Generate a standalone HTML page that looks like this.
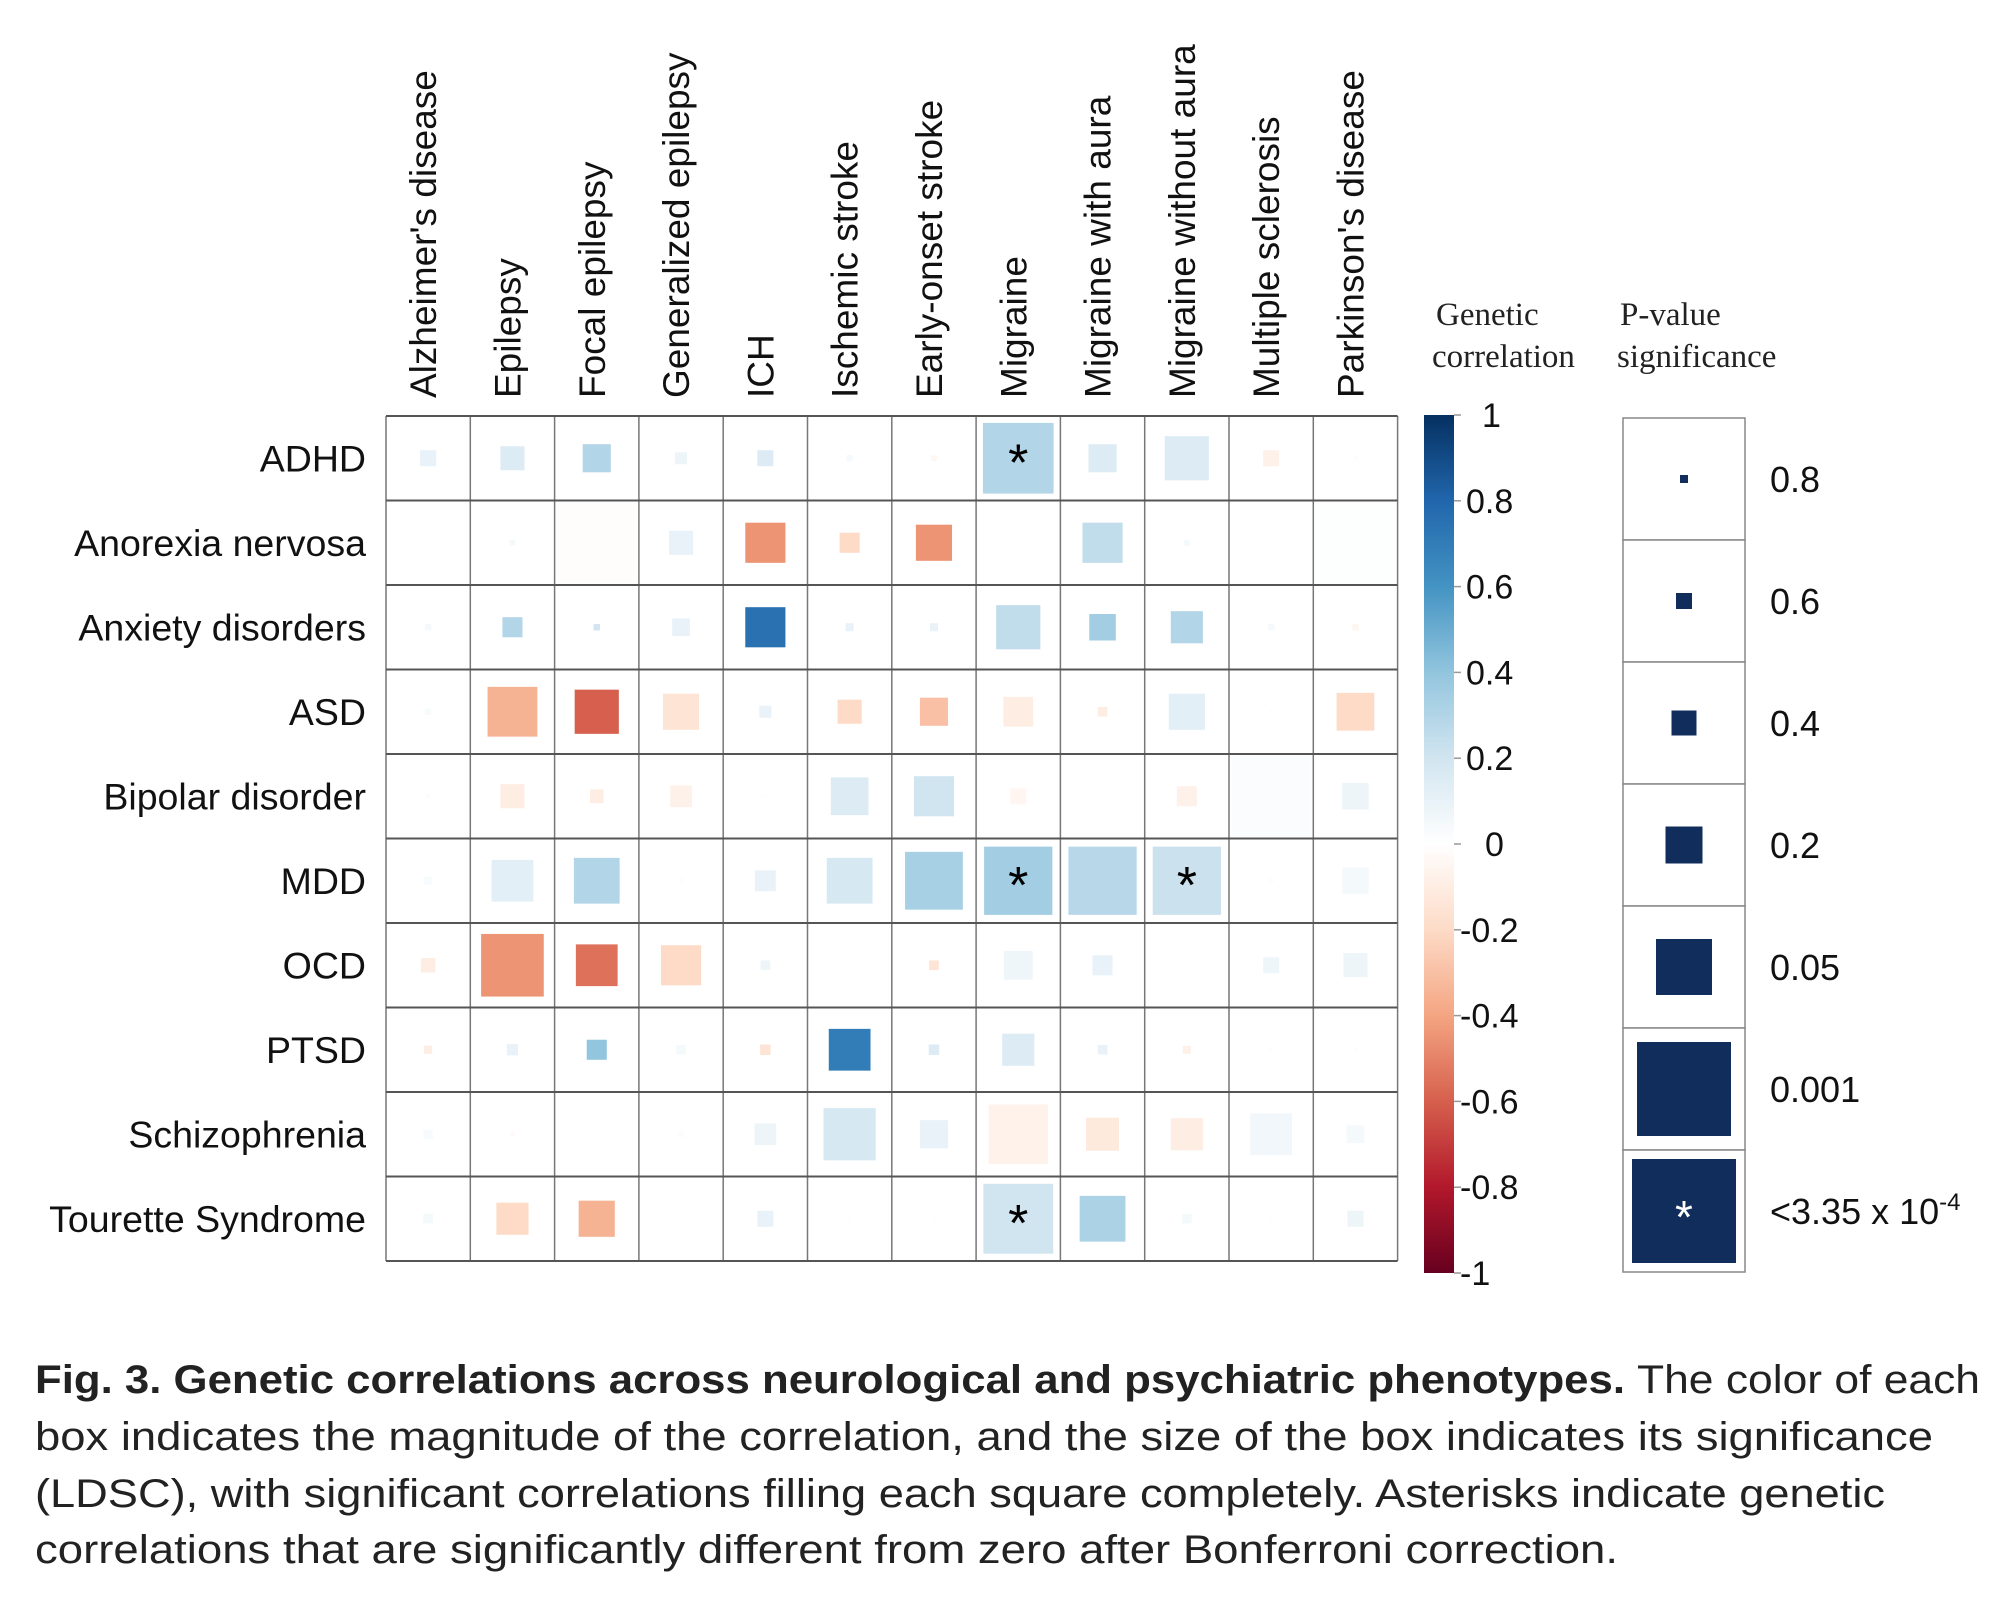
<!DOCTYPE html>
<html><head><meta charset="utf-8"><style>
html,body{margin:0;padding:0;background:#fff;}
svg{display:block;font-family:"Liberation Sans",Arial,sans-serif;}
</style></head><body>
<svg id="chart" width="2010" height="1604" viewBox="0 0 2010 1604" xmlns="http://www.w3.org/2000/svg">
<g id="cells"></g>
<g id="grid"></g>
<g id="collabels"></g>
<g id="rowlabels"></g>
<defs><linearGradient id="rdbu" x1="0" y1="1" x2="0" y2="0">
<stop offset="0" stop-color="#67001F"/><stop offset="0.1" stop-color="#B2182B"/><stop offset="0.2" stop-color="#D6604D"/><stop offset="0.3" stop-color="#F4A582"/><stop offset="0.4" stop-color="#FDDBC7"/><stop offset="0.5" stop-color="#FFFFFF"/><stop offset="0.6" stop-color="#D1E5F0"/><stop offset="0.7" stop-color="#92C5DE"/><stop offset="0.8" stop-color="#4393C3"/><stop offset="0.9" stop-color="#2166AC"/><stop offset="1" stop-color="#053061"/>
</linearGradient></defs>
<text x="1436" y="325" font-family="Liberation Serif,serif" font-size="33" fill="#222">Genetic</text>
<text x="1432" y="367" font-family="Liberation Serif,serif" font-size="33" fill="#222">correlation</text>
<rect x="1424" y="415" width="30" height="858" fill="url(#rdbu)"/>
<g id="cbticks"></g>
<text x="1620" y="325" font-family="Liberation Serif,serif" font-size="33" fill="#222">P-value</text>
<text x="1617" y="367" font-family="Liberation Serif,serif" font-size="33" fill="#222">significance</text>
<g id="plegend"></g>
<g font-size="40" fill="#222">
<text x="35" y="1393"><tspan font-weight="bold" textLength="1590" lengthAdjust="spacingAndGlyphs">Fig. 3. Genetic correlations across neurological and psychiatric phenotypes.</tspan><tspan x="1637" textLength="343" lengthAdjust="spacingAndGlyphs">The color of each</tspan></text>
<text x="35" y="1450" textLength="1898" lengthAdjust="spacingAndGlyphs">box indicates the magnitude of the correlation, and the size of the box indicates its significance</text>
<text x="35" y="1507" textLength="1850" lengthAdjust="spacingAndGlyphs">(LDSC), with significant correlations filling each square completely. Asterisks indicate genetic</text>
<text x="35" y="1563" textLength="1583" lengthAdjust="spacingAndGlyphs">correlations that are significantly different from zero after Bonferroni correction.</text>
</g>
</svg>
<script>
const cols = ["Alzheimer's disease","Epilepsy","Focal epilepsy","Generalized epilepsy","ICH","Ischemic stroke","Early-onset stroke","Migraine","Migraine with aura","Migraine without aura","Multiple sclerosis","Parkinson's disease"];
const rows = ["ADHD","Anorexia nervosa","Anxiety disorders","ASD","Bipolar disorder","MDD","OCD","PTSD","Schizophrenia","Tourette Syndrome"];
const corrValues = [
[0.1,0.15,0.3,0.08,0.15,0.05,-0.05,0.3,0.15,0.15,-0.08,0.02],
[0.02,0.05,-0.01,0.1,-0.45,-0.2,-0.45,0,0.25,0.05,0,0.01],
[0.05,0.3,0.2,0.1,0.75,0.1,0.1,0.25,0.35,0.3,0.05,-0.05],
[0.03,-0.35,-0.6,-0.15,0.1,-0.2,-0.3,-0.1,-0.1,0.12,0.02,-0.2],
[-0.02,-0.1,-0.1,-0.08,0.02,0.15,0.2,-0.05,0,-0.08,0.02,0.08],
[0.03,0.12,0.3,0.02,0.1,0.18,0.33,0.35,0.28,0.22,0.02,0.05],
[-0.1,-0.45,-0.55,-0.2,0.08,0,-0.15,0.07,0.1,0,0.07,0.08],
[-0.1,0.1,0.4,0.05,-0.15,0.7,0.15,0.15,0.1,-0.08,0.02,0.02],
[0.03,-0.03,0,0.02,0.08,0.18,0.1,-0.07,-0.12,-0.1,0.06,0.05],
[0.05,-0.2,-0.35,0,0.1,0.02,-0.02,0.2,0.32,0.05,0.02,0.08]];
const sizeValues = [
[0.2,0.3,0.35,0.15,0.2,0.08,0.07,0.88,0.35,0.55,0.2,0.05],
[0.02,0.07,1.0,0.3,0.5,0.25,0.45,0.03,0.5,0.07,0,1.0],
[0.08,0.25,0.08,0.22,0.5,0.1,0.1,0.55,0.33,0.4,0.08,0.08],
[0.08,0.62,0.55,0.45,0.15,0.3,0.35,0.37,0.12,0.45,0.03,0.47],
[0.05,0.3,0.17,0.27,0.03,0.47,0.5,0.2,0,0.25,1.0,0.33],
[0.1,0.52,0.57,0.05,0.26,0.57,0.72,0.85,0.85,0.85,0.05,0.33],
[0.18,0.78,0.52,0.5,0.12,0,0.12,0.36,0.25,0,0.2,0.3],
[0.1,0.14,0.25,0.12,0.13,0.52,0.13,0.4,0.12,0.1,0.04,0.03],
[0.12,0.06,0,0.07,0.27,0.65,0.35,0.74,0.41,0.4,0.52,0.22],
[0.12,0.4,0.45,0,0.2,0.03,0.03,0.87,0.57,0.12,0.03,0.2]];
const starCells = [[0,7],[5,7],[5,9],[9,7]];
const cbTicks = [1,0.8,0.6,0.4,0.2,0,-0.2,-0.4,-0.6,-0.8,-1];
const pLabels = ["0.8","0.6","0.4","0.2","0.05","0.001","<3.35 x 10"];
const pSizes = [8,16,25,37,56,94,104];

const NS="http://www.w3.org/2000/svg";
const GX=386, GY=416, CW=84.3, CH=84.5;
const xPos = i => GX + i*CW;
const yPos = j => GY + j*CH;
const stops=[[-1,[103,0,31]],[-0.8,[178,24,43]],[-0.6,[214,96,77]],[-0.4,[244,165,130]],[-0.2,[253,219,199]],[0,[255,255,255]],[0.2,[209,229,240]],[0.4,[146,197,222]],[0.6,[67,147,195]],[0.8,[33,102,172]],[1,[5,48,97]]];
function color(v){for(let k=0;k<stops.length-1;k++){const a=stops[k],b=stops[k+1];if(v<=b[0]){const t=(v-a[0])/(b[0]-a[0]);const c=a[1].map((x,i)=>Math.round(x+(b[1][i]-x)*t));return `rgb(${c})`;}}return "rgb(5,48,97)";}
function mk(tag,attrs,parent){const e=document.createElementNS(NS,tag);for(const k in attrs)e.setAttribute(k,attrs[k]);parent.appendChild(e);return e;}
const cells=document.getElementById('cells');
rows.forEach((r,j)=>cols.forEach((c,i)=>{
  const s=sizeValues[j][i]*(CW-4);
  if(s<=0)return;
  const cx=xPos(i)+CW/2, cy=yPos(j)+CH/2;
  const el=mk('rect',{x:cx-s/2,y:cy-s/2,width:s,height:s,fill:color(corrValues[j][i])},cells);
  
  
}));
starCells.forEach(([j,i])=>{
  const t=mk('text',{x:xPos(i)+CW/2,y:yPos(j)+CH/2+22,'text-anchor':'middle','font-size':'52','fill':'#000'},cells);
  t.textContent='*';
  
  
});
const grid=document.getElementById('grid');
for(let i=0;i<=cols.length;i++){const l=mk('line',{x1:xPos(i),y1:GY,x2:xPos(i),y2:yPos(rows.length),stroke:'#777','stroke-width':1.5},grid);}
for(let j=0;j<=rows.length;j++){const l=mk('line',{x1:GX,y1:yPos(j),x2:xPos(cols.length),y2:yPos(j),stroke:'#555','stroke-width':2},grid);}
const cl=document.getElementById('collabels');
cols.forEach((c,i)=>{const x=xPos(i)+CW/2+8,y=398;const t=mk('text',{x:x,y:y,transform:`rotate(-90 ${x} ${y})`,'font-size':'37','fill':'#111'},cl);t.textContent=c;});
const rl=document.getElementById('rowlabels');
rows.forEach((r,j)=>{const t=mk('text',{x:366,y:yPos(j)+CH/2+13,'text-anchor':'end','font-size':'37.5','fill':'#111'},rl);t.textContent=r;});
const cb=document.getElementById('cbticks');
cbTicks.forEach(v=>{const y=415+(1-v)/2*858;const l=mk('line',{x1:1454,y1:y,x2:1461,y2:y,stroke:'#999','stroke-width':1.5},cb);
  const t=mk('text',{x:v<0?1460:(v===0?1485:(v===1?1482:1466)),y:y+12,'font-size':'34','fill':'#111'},cb);t.textContent=String(v);});
const pl=document.getElementById('plegend');
const PX=1623,PY=418,PW=122,PH=122;
pLabels.forEach((lab,k)=>{const y=PY+k*PH;
  const b=mk('rect',{x:PX,y:y,width:PW,height:PH,fill:'#fff',stroke:'#888','stroke-width':1.5},pl);
  const s=pSizes[k];const r=mk('rect',{x:PX+PW/2-s/2,y:y+PH/2-s/2,width:s,height:s,fill:'#112d5c'},pl);
  const t=mk('text',{x:1770,y:y+PH/2+13,'font-size':'36','fill':'#111'},pl);t.textContent=lab;
  if(k===pLabels.length-1){const sp=mk('tspan',{dy:'-14','font-size':'24'},t);sp.textContent='-4';
    const st=mk('text',{x:PX+PW/2,y:y+PH/2+22,'text-anchor':'middle','font-size':'46','fill':'#fff'},pl);st.textContent='*';}
});
</script>
</body></html>
